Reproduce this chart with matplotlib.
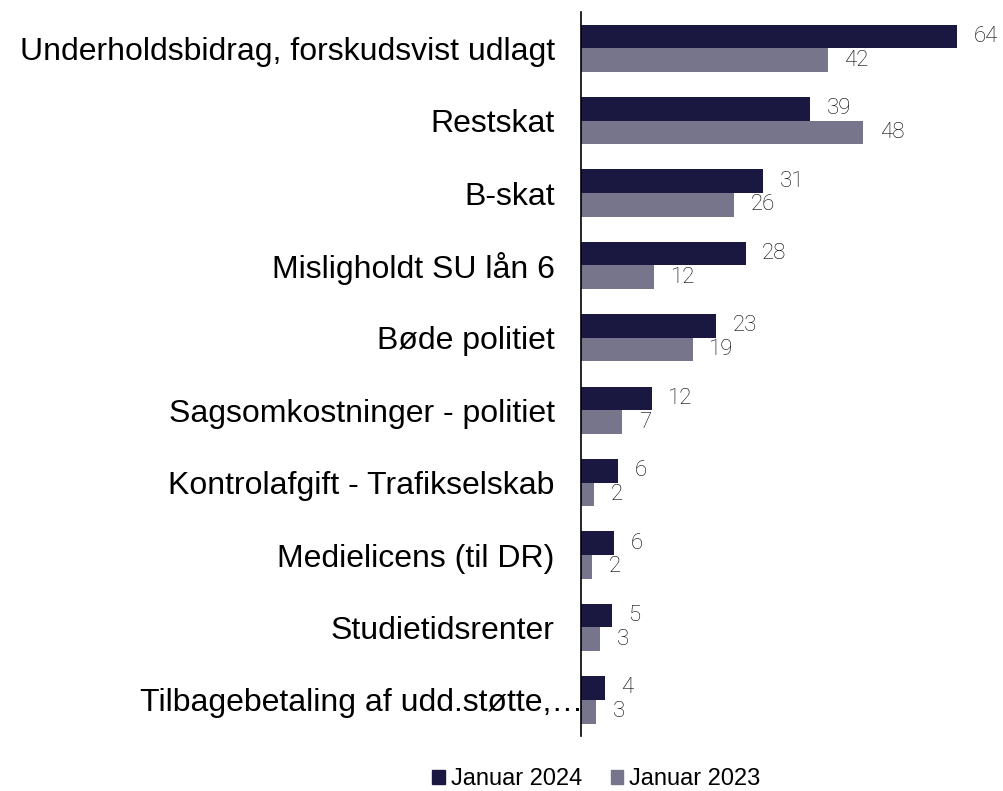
import numpy as np
import matplotlib.pyplot as plt
from matplotlib.patches import Patch
from matplotlib.transforms import ScaledTranslation

categories = [
    'Underholdsbidrag, forskudsvist udlagt',
    'Restskat',
    'B-skat',
    'Misligholdt SU lån 6',
    'Bøde politiet',
    'Sagsomkostninger - politiet',
    'Kontrolafgift - Trafikselskab',
    'Medielicens (til DR)',
    'Studietidsrenter',
    'Tilbagebetaling af udd.støtte,…',
]
jan_2024 = [64, 39, 31, 28, 23, 12, 6.3, 5.6, 5.2, 4.0]
jan_2023 = [42, 48, 26, 12.4, 19, 7, 2.2, 1.8, 3.3, 2.6]
series_names = ['Januar 2024', 'Januar 2023']

c24 = '#1a1840'
c23 = '#76758b'

fig = plt.figure(figsize=(10.04, 7.91), dpi=100)
ax = fig.add_axes([0.5787, 0.0695, 0.4213, 0.9153])

y = np.arange(len(categories))
h = 0.327
b1 = ax.barh(y - h/2, jan_2024, height=h, color=c24)
b2 = ax.barh(y + h/2, jan_2023, height=h, color=c23)

# dataetiketter
for bars, vals in [(b1, jan_2024), (b2, jan_2023)]:
    for bar, v in zip(bars, vals):
        ax.annotate('{:.0f}'.format(v), (bar.get_width(), bar.get_y() + bar.get_height()/2),
                    xytext=(12, 0), textcoords='offset points', va='center', ha='left',
                    fontsize=16, family=['Roboto', 'DejaVu Sans'], fontweight='light',
                    color='black', annotation_clip=False)

ax.set_xlim(0, 72)
ax.set_ylim(9.5, -0.5)
ax.set_yticks(y)
ax.set_yticklabels(categories, fontsize=23, family=['Liberation Sans', 'DejaVu Sans'])
ax.tick_params(axis='y', length=0, pad=19)
ax.set_xticks([])
# den afkortede etiket går helt ind til aksen
lab = ax.get_yticklabels()[-1]
lab.set_transform(lab.get_transform() + ScaledTranslation(0.29, 0, fig.dpi_scale_trans))
for s in ['top', 'right', 'bottom']:
    ax.spines[s].set_visible(False)
ax.spines['left'].set_linewidth(1.2)
ax.spines['left'].set_color('black')

handles = [Patch(color=c24), Patch(color=c23)]
fig.legend(handles, series_names, loc='center', bbox_to_anchor=(0.594, 0.015), ncol=2,
           frameon=False, handlelength=0.54, handleheight=0.54, handletextpad=0.25,
           columnspacing=1.2, prop={'family': 'Liberation Sans', 'size': 17})

fig.savefig('out.png', dpi=100)
